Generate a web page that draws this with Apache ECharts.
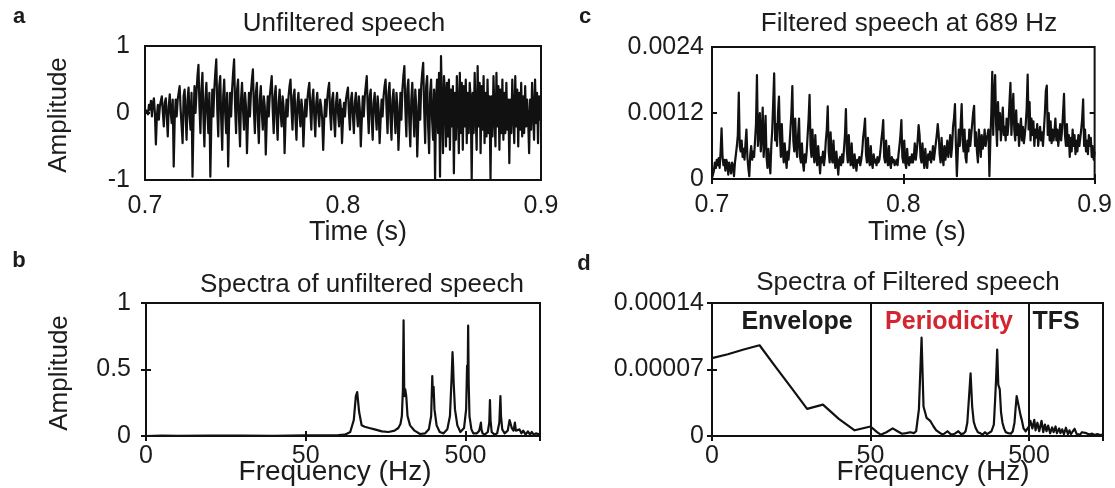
<!DOCTYPE html>
<html>
<head>
<meta charset="utf-8">
<script src="https://cdn.jsdelivr.net/npm/echarts@6/dist/echarts.min.js"></script>
<style>
  html, body { margin: 0; padding: 0; background: #ffffff; }
  #chart { width: 1115px; height: 488px; }
</style>
</head>
<body>
<div id="chart"></div>
<script>
// ---- sampling grid of the two waveforms ----
const TIME_START = 0.7;      // s
const TIME_STEP = 0.0005;    // s between samples
const TIME_TICKS = [0.7, 0.8, 0.9];

// Panel a: unfiltered speech waveform (normalised amplitude)
const unfilteredAmp = [
  0, 0.04, 0.06, -0.02, 0.12, 0.05, 0.18, -0.05, 0.15, 0.22, 0,
  -0.47,
  -0.05, 0.12, -0.1, 0.1, 0.18, 0.25, 0.02, -0.2, 0.15, 0.22, -0.05, -0.35, 0.1, 0.28, 0, -0.15, 0.2,
  -0.8,
  -0.1, 0.2, -0.05, 0.2, 0.3, 0.4, 0.05, -0.2, -0.45, 0.25, 0.35, -0.05, -0.4, 0.2, 0.38, -0.05, -0.25, 0.3,
  -0.95,
  -0.1, 0.4, 0, 0.3, 0.55, 0.72, 0.1, -0.3, 0.35, 0.6, -0.05, -0.5, 0.2, 0.45, 0, -0.3, 0.3,
  -0.95,
  -0.15, 0.35, -0.05, 0.35, 0.6, 0.8, 0.05, -0.35, 0.4, 0.55, -0.1, -0.55, 0.25, 0.5, 0, -0.3, 0.3,
  -0.8,
  -0.1, 0.3, -0.05, 0.35, 0.6, 0.8, 0.1, -0.3, 0.35, 0.5, -0.1, -0.5, 0.2, 0.45, 0.05, -0.25, 0.3, 0.1,
  -0.6,
  -0.1, 0.3, -0.05, 0.3, 0.5, 0.65, 0.05, -0.3, 0.3, 0.45, -0.1, -0.45, 0.2, 0.4, 0, -0.25, 0.25, 0.1,
  -0.62,
  -0.1, 0.25, -0.05, 0.25, 0.4, 0.55, 0.05, -0.3, 0.25, 0.4, -0.1, -0.4, 0.15, 0.35, 0, -0.2, 0.25, 0.1,
  -0.6,
  -0.1, 0.2, -0.05, 0.25, 0.4, 0.5, 0.05, -0.25, 0.25, 0.35, -0.1, -0.4, 0.15, 0.3, 0, -0.2, 0.2, 0.05,
  -0.5,
  -0.1, 0.2, -0.05, 0.2, 0.35, 0.45, 0.05, -0.25, 0.2, 0.35, -0.05, -0.35, 0.15, 0.3, 0, -0.2, 0.2, 0.1, -0.1,
  -0.55,
  -0.1, 0.2, -0.05, 0.2, 0.35, 0.45, 0, -0.25, 0.2, 0.3, -0.1, -0.35, 0.15, 0.3, 0, -0.2, 0.2, 0.05,
  -0.45,
  -0.1, 0.15, -0.05, 0.2, 0.3, 0.38, 0, -0.25, 0.2, 0.3, -0.05, -0.3, 0.15, 0.3, 0, -0.2, 0.25, 0.05,
  -0.5,
  -0.1, 0.25, -0.05, 0.25, 0.4, 0.55, 0.05, -0.3, 0.25, 0.35, -0.1, -0.4, 0.15, 0.3, 0, -0.25, 0.25, 0.05,
  -0.45,
  -0.1, 0.2, -0.05, 0.25, 0.4, 0.5, 0.05, -0.3, 0.3, 0.45, -0.1, -0.4, 0.2, 0.35, 0, -0.3, 0.3, 0.1,
  -0.55,
  -0.15, 0.3, -0.1, 0.35, 0.55, 0.7, 0.05, -0.35, 0.35, 0.5, -0.15, -0.5, 0.2, 0.45, 0, -0.35, 0.35, 0.1,
  -0.65,
  -0.15, 0.35, -0.1, 0.4, 0.6, 0.75, 0.05, -0.45, 0.4, 0.55, -0.2, -0.6, 0.3, 0.5, -0.1, -0.4, 0.35,
  -1.0,
  0.2, 0.5, -0.3, 0.6, -0.95, 0.85, 0.1, -0.6, 0.55, 0.3, -0.5, 0.45, -0.35, 0.5, -0.55, 0.35, -0.2, 0.4,
  -0.9,
  0.3, -0.4, 0.55, 0.1, -0.6, 0.6, -0.3, 0.45, -0.55, 0.4, -0.2, 0.5, -0.45, 0.3, -0.3, 0.45, 0.2,
  -1.0,
  0.3, -0.3, 0.6, 0, -0.55, 0.7, -0.2, 0.45, -0.6, 0.4, -0.25, 0.55, -0.45, 0.3, -0.35, 0.5, -0.3, 0.25,
  -1.0,
  0.25, -0.35, 0.55, 0, -0.5, 0.6, -0.2, 0.4, -0.55, 0.35, -0.3, 0.5, -0.4, 0.3, -0.3, 0.45, -0.25, 0.2,
  -0.75,
  0.2, -0.3, 0.5, 0, -0.45, 0.55, -0.2, 0.35, -0.5, 0.3, -0.25, 0.45, -0.35, 0.25, -0.3, 0.4, -0.2, 0.2, -0.1,
  -0.6,
  0.2, -0.25, 0.45, 0, -0.4, 0.5, -0.15, 0.3, -0.45, 0.25, -0.1, 0.05
];

// Panel c: speech filtered at 689 Hz (rectified output)
const filteredAmp = [
  0.00002, 0.00008, 0.00015, 0.0003, 0.0002, 0.00035, 0.00025, 0.00038, 0.0002, 0.0005,
  0.00092, 0.0004, 0.00025, 0.00035, 0.00015, 0.00035, 0.00028, 0.00008, 0.0003, 0.00032,
  0.0001, 0.0003, 0.00025, 0.00005, 0.0003, 0.00045, 0.0006, 0.0008, 0.00157, 0.0006,
  0.0005, 0.0007, 0.0004, 0.00055, 0.00035, 0.00065, 0.0009, 0.0004, 0.0002, 0.00005,
  0.00045, 0.0006, 0.00035, 0.0005, 0.0004, 0.0007, 0.001, 0.00189, 0.0006, 0.0009,
  0.0012, 0.0005, 0.0008, 0.0013, 0.0004, 0.0007, 0.00115, 0.0004, 0.0002, 0.00055,
  0.0003, 0.0001, 0.0006, 0.0009, 0.0014, 0.00192, 0.0007, 0.001, 0.0006, 0.0012,
  0.0015, 0.0008, 0.0004, 0.001, 0.0005, 0.0003, 0.00065, 0.0004, 0.0002, 0.0005,
  0.00035, 0.0006, 0.0009, 0.0012, 0.00169, 0.0007, 0.0005, 0.0011, 0.0006, 0.0004,
  0.0008, 0.0011, 0.0004, 0.0003, 0.00065, 0.0003, 0.00015, 0.00045, 0.0003, 0.0005,
  0.0008, 0.0011, 0.00153, 0.0006, 0.0004, 0.0009, 0.0005, 0.0003, 0.0008, 0.0004,
  0.00025, 0.0006, 0.00035, 0.0001, 0.0004, 0.0003, 0.0005, 0.00025, 0.0004, 0.0007,
  0.0009, 0.00132, 0.0005, 0.0003, 0.00085, 0.0004, 0.0003, 0.0007, 0.00035, 0.0002,
  0.0005, 0.0003, 0.00008, 0.00035, 0.0004, 0.00025, 0.00045, 0.0003, 0.00055, 0.0008,
  0.00127, 0.0005, 0.0003, 0.0008, 0.0004, 0.00025, 0.00065, 0.0003, 0.0002, 0.00045,
  0.0003, 0.00015, 0.00035, 0.0003, 0.0004, 0.00025, 0.00035, 0.0005, 0.00075, 0.0009,
  0.0011, 0.00045, 0.0003, 0.00075, 0.00035, 0.00025, 0.0006, 0.0003, 0.0002, 0.00045,
  0.0003, 0.00035, 0.00025, 0.0004, 0.0003, 0.00035, 0.0005, 0.0007, 0.00085, 0.00107,
  0.0004, 0.0003, 0.0007, 0.00035, 0.00025, 0.0006, 0.0003, 0.0002, 0.0004, 0.0003,
  0.00035, 0.00025, 0.0003, 0.00035, 0.00025, 0.00045, 0.0006, 0.0008, 0.00107, 0.0004,
  0.0003, 0.0007, 0.0003, 0.0002, 0.00055, 0.0003, 0.00025, 0.0004, 0.0003, 0.00045,
  0.0003, 0.0004, 0.00065, 0.00035, 0.0005, 0.0007, 0.00098, 0.0008, 0.0004, 0.0003,
  0.00065, 0.00035, 0.0002, 0.00055, 0.0003, 0.0002, 0.00045, 0.00035, 0.0005, 0.0003,
  0.0004, 0.0006, 0.00035, 0.0005, 0.00065, 0.0008, 0.001, 0.0008, 0.00045, 0.0003,
  0.00075, 0.0004, 0.00025, 0.0006, 0.00035, 0.0005, 0.0007, 0.0004, 0.00055, 0.0008,
  0.0004, 0.0006, 0.00095, 0.0011, 0.00136, 0.0006, 0.00005, 0.0005, 0.0009, 0.0006,
  0.001, 0.00136, 0.0007, 0.0005, 0.0009, 0.0004, 0.0003, 0.0007, 0.0005, 0.0009,
  0.0006, 0.0008, 0.001, 0.0012, 0.00133, 0.0006, 0.00085, 0.0005, 0.0003, 0.0009,
  0.0007, 0.0004, 0.0008, 0.00055, 0.00065, 0.0009, 0.0006, 0.00075, 0.0008, 0.0009,
  0.00005, 0.0007, 0.0012, 0.00195, 0.0008, 0.0015, 0.00189, 0.001, 0.0006, 0.0014,
  0.0009, 0.0012, 0.0007, 0.001, 0.0013, 0.0008, 0.00095, 0.0007, 0.0011, 0.0008,
  0.001, 0.0014, 0.00175, 0.0008, 0.0012, 0.00155, 0.0009, 0.0007, 0.00125, 0.0008,
  0.001, 0.0006, 0.0009, 0.0011, 0.0007, 0.00095, 0.00065, 0.0008, 0.001, 0.0013,
  0.0019, 0.0009, 0.0014, 0.0007, 0.0011, 0.0008, 0.00105, 0.0006, 0.0009, 0.00075,
  0.001, 0.0006, 0.0008, 0.00095, 0.0007, 0.00085, 0.0006, 0.0009, 0.0012, 0.0016,
  0.0017, 0.0008, 0.0012, 0.0007, 0.00105, 0.00065, 0.0009, 0.0007, 0.00085, 0.0011,
  0.0007, 0.0009, 0.0006, 0.0008, 0.001, 0.0007, 0.0009, 0.0012, 0.00155, 0.0008,
  0.0006, 0.001, 0.0006, 0.0008, 0.0004, 0.00075, 0.0005, 0.0009, 0.0006, 0.0008,
  0.00045, 0.0007, 0.0005, 0.0008, 0.0006, 0.00075, 0.0009, 0.0011, 0.00145, 0.0006,
  0.0009, 0.0005, 0.0007, 0.00045, 0.0008, 0.0006, 0.00075, 0.0004, 0.0006, 0.00035,
  0.0005
];

// ---- spectra: frequency axis is linear 0–50 Hz, logarithmic above 50 Hz ----
const FREQ_MAX = 1465;          // Hz, right end of the spectrum axes
const FREQ_TICKS = [0, 50, 500];
const FREQ_TICK_LABELS = ['0', '50', '500'];

// Panel b: spectrum of the unfiltered speech
const specUnfilteredFreq = [
  0, 5, 10, 20, 30, 40, 50, 60, 70, 80, 88, 95, 100, 103, 105, 108, 112, 117, 125, 135,
  150, 165, 180, 190, 196, 200, 203, 205, 207, 210, 213, 217, 225, 240, 260, 280, 295, 305, 310, 313,
  316, 320, 330, 345, 365, 385, 400, 410, 415, 418, 422, 430, 445, 465, 490, 505, 512, 517, 520, 524,
  530, 545, 560, 590, 610, 620, 625, 630, 640, 660, 690, 705, 712, 718, 730, 760, 790, 815, 828, 835,
  850, 880, 920, 945, 960, 975, 1000, 1020, 1035, 1060, 1090, 1120, 1150, 1190, 1230, 1270, 1300, 1340, 1380, 1420,
  1465
];
const specUnfilteredAmp = [
  0, 0.003, 0.002, 0.003, 0.003, 0.002, 0.004, 0.004, 0.005, 0.006, 0.01, 0.03, 0.12, 0.3, 0.33, 0.18, 0.08, 0.07, 0.06, 0.05,
  0.035, 0.03, 0.04, 0.06, 0.09, 0.15, 0.35, 0.87, 0.3, 0.35, 0.3, 0.15, 0.08, 0.04, 0.015, 0.02, 0.05, 0.15, 0.45, 0.3,
  0.37, 0.2, 0.08, 0.03, 0.02, 0.05, 0.15, 0.45, 0.63, 0.55, 0.4, 0.2, 0.08, 0.03, 0.06, 0.2, 0.53, 0.5, 0.83, 0.4,
  0.15, 0.05, 0.02, 0.02, 0.04, 0.08, 0.1, 0.05, 0.02, 0.01, 0.03, 0.1, 0.27, 0.12, 0.03, 0.01, 0.02, 0.1, 0.3, 0.15,
  0.05, 0.02, 0.04, 0.12, 0.13, 0.06, 0.04, 0.1, 0.04, 0.03, 0.05, 0.02, 0.04, 0.01, 0.035, 0.01, 0.03, 0.01, 0.02, 0.005,
  0.01
];

// Panel d: spectrum of the filtered speech
const specFilteredFreq = [
  0, 5, 10, 15, 20, 25, 30, 35, 40, 45, 50, 55, 58, 63, 69, 74, 79, 84, 89, 94,
  97, 101, 105, 108, 113, 119, 125, 130, 135, 141, 146, 153, 160, 166, 172, 179, 186, 194, 199, 204,
  209, 214, 219, 224, 230, 238, 247, 255, 264, 272, 280, 290, 300, 305, 310, 315, 320, 327, 333, 340,
  348, 357, 370, 384, 395, 405, 412, 418, 425, 435, 442, 450, 462, 476, 488, 500, 510, 525, 540, 550,
  565, 580, 600, 615, 630, 645, 660, 680, 700, 715, 735, 750, 775, 790, 810, 830, 855, 880, 900, 920,
  945, 970, 1000, 1025, 1050, 1080, 1100, 1150, 1200, 1250, 1300, 1350, 1400, 1465
];
const specFilteredAmp = [
  8.2e-5, 8.6e-5, 9.1e-5, 9.55e-5, 7.3e-5, 5.1e-5, 2.85e-5, 3.3e-5, 1.8e-5, 6e-6, 1e-5, 4e-6, 1.4e-6, 4e-6, 8e-6, 5e-6, 2.4e-6, 3e-6, 4e-6, 3e-6,
  5e-6, 2.8e-5, 1.035e-4, 3.1e-5, 1.9e-5, 1.6e-5, 1e-5, 6e-6, 4e-6, 2e-6, 2.4e-6, 5e-6, 2e-6, 1.7e-6, 3e-6, 5e-6, 2e-6, 2.8e-6, 5e-6, 1.4e-5,
  4e-5, 6.6e-5, 3.1e-5, 1.5e-5, 8.7e-6, 4e-6, 2.8e-6, 1.5e-6, 4e-6, 2e-6, 3e-6, 5e-6, 1.2e-5, 3.5e-5, 6e-5, 9.1e-5, 5.4e-5, 4.9e-5, 2.5e-5, 1.4e-5,
  8e-6, 4e-6, 3e-6, 2.4e-6, 5e-6, 1.4e-5, 3e-5, 4.2e-5, 3.6e-5, 3.4e-5, 2.2e-5, 1.7e-5, 8e-6, 5e-6, 7e-6, 1e-5, 1.6e-5, 8e-6, 1.7e-5, 6e-6,
  1.4e-5, 5e-6, 1.6e-5, 4e-6, 1.2e-5, 5e-6, 1.1e-5, 3e-6, 9e-6, 4e-6, 1e-5, 3e-6, 8e-6, 3e-6, 7e-6, 2e-6, 8.7e-6, 2e-6, 6e-6, 2e-6,
  5e-6, 7.6e-6, 2e-6, 4e-6, 1.5e-6, 4e-6, 2e-6, 3e-6, 1.5e-6, 2.5e-6, 1e-6, 2e-6, 1e-6, 1.5e-6
];

// ---- helpers ----
// map Hz onto the split axis: one unit for 0–50 Hz, one unit per decade above
function freqToAxis(f) {
  return f <= 50 ? f / 50 : 1 + Math.log10(f / 50);
}
const FREQ_AXIS_MAX = freqToAxis(FREQ_MAX);

const FONT = '"Liberation Sans", Arial, Helvetica, sans-serif';
const INK = '#1c1c1c';
const LINE = '#111111';

const grids = [
  { left: 145, top: 46, width: 396, height: 134 },   // a
  { left: 146, top: 303, width: 394, height: 133 },  // b
  { left: 712, top: 47, width: 392, height: 132 },   // c
  { left: 712, top: 303, width: 391, height: 133 }   // d
].map(g => Object.assign({ show: true, borderColor: LINE, borderWidth: 2, backgroundColor: 'transparent' }, g));

const tickStyle = { show: true, inside: true, length: 5, lineStyle: { color: LINE, width: 2 } };
const labelStyle = (size, margin, formatter) =>
  ({ color: INK, fontSize: size, fontFamily: FONT, margin, formatter, showMinLabel: true, showMaxLabel: true });

function axis(gridIndex, position, range, label) {
  return Object.assign({
    gridIndex, type: 'value', position,
    axisLine: { show: false },
    axisTick: tickStyle,
    splitLine: { show: false },
    axisLabel: label || { show: false }
  }, range);
}

const timeRange = { min: TIME_START, max: 0.9, interval: 0.1 };
const timeLabel = v => {
  const hit = TIME_TICKS.find(t => Math.abs(t - v) < 1e-9);
  return hit === undefined ? '' : hit.toFixed(1);
};
const freqRange = { min: 0, max: FREQ_AXIS_MAX, interval: 1 };
const freqLabel = v => {
  const i = FREQ_TICKS.findIndex(f => Math.abs(freqToAxis(f) - v) < 1e-9);
  return i < 0 ? '' : FREQ_TICK_LABELS[i];
};

const ampA = { min: -1, max: 1, interval: 1 };
const ampB = { min: 0, max: 1, interval: 0.5 };
const ampC = { min: 0, max: 0.0024, interval: 0.0012 };
const ampD = { min: 0, max: 0.00014, interval: 0.00007 };
const fixed = digits => v => (Math.abs(v) < 1e-12 ? '0' : v.toFixed(digits));

const xAxes = [
  axis(0, 'bottom', timeRange, labelStyle(25, 14, timeLabel)),
  axis(1, 'bottom', freqRange, labelStyle(25, 8, freqLabel)),
  axis(2, 'bottom', timeRange, labelStyle(25, 14, timeLabel)),
  axis(3, 'bottom', freqRange, labelStyle(25, 8, freqLabel)),
  axis(0, 'top', timeRange), axis(1, 'top', freqRange), axis(2, 'top', timeRange), axis(3, 'top', freqRange)
];

const yAxes = [
  axis(0, 'left', ampA, labelStyle(25, 15)),
  axis(1, 'left', ampB, labelStyle(25, 15, v => (v === 0 ? '0' : String(+v.toFixed(1))))),
  axis(2, 'left', ampC, labelStyle(25, 8, fixed(4))),
  axis(3, 'left', ampD, labelStyle(25, 8, fixed(5))),
  axis(0, 'right', ampA), axis(1, 'right', ampB), axis(2, 'right', ampC), axis(3, 'right', ampD)
];

const lineStyle = { color: LINE, width: 2.2, join: 'round' };
function lineSeries(xi, yi, data, extra) {
  return Object.assign({
    type: 'line', xAxisIndex: xi, yAxisIndex: yi, data,
    showSymbol: false, symbol: 'none', lineStyle, silent: true, animation: false, z: 3
  }, extra);
}

const series = [
  lineSeries(0, 0, unfilteredAmp.map((v, i) => [TIME_START + i * TIME_STEP, v])),
  lineSeries(1, 1, specUnfilteredFreq.map((f, i) => [freqToAxis(f), specUnfilteredAmp[i]])),
  lineSeries(2, 2, filteredAmp.map((v, i) => [TIME_START + i * TIME_STEP, v])),
  lineSeries(3, 3, specFilteredFreq.map((f, i) => [freqToAxis(f), specFilteredAmp[i]]), {
    markLine: {
      silent: true, symbol: ['none', 'none'], label: { show: false },
      lineStyle: { color: LINE, width: 2, type: 'solid' },
      data: [{ xAxis: freqToAxis(50) }, { xAxis: freqToAxis(500) }]
    }
  })
];

function txt(text, x, y, size, opts) {
  return Object.assign({
    type: 'text', x, y, silent: true,
    style: Object.assign({
      text, fill: INK, font: `${size}px ${FONT}`,
      textAlign: 'center', textVerticalAlign: 'middle'
    }, (opts && opts.style) || {})
  }, (opts && opts.el) || {});
}
function boldTxt(text, x, y, size, color) {
  return txt(text, x, y, size, { style: { font: `bold ${size}px ${FONT}`, fill: color || INK } });
}

const graphic = [
  // panel letters
  boldTxt('a', 19, 17, 22), boldTxt('c', 585, 17, 22),
  boldTxt('b', 19, 261, 22), boldTxt('d', 584, 264, 22),
  // panel titles
  txt('Unfiltered speech', 344, 24, 26),
  txt('Filtered speech at 689 Hz', 909, 24, 26),
  txt('Spectra of unfiltered speech', 362, 285, 26),
  txt('Spectra of Filtered speech', 908, 283, 26),
  // axis names
  txt('Amplitude', 59, 115, 26, { el: { rotation: Math.PI / 2 } }),
  txt('Amplitude', 60, 373, 26, { el: { rotation: Math.PI / 2 } }),
  txt('Time (s)', 358, 233, 27),
  txt('Time (s)', 917, 233, 27),
  txt('Frequency (Hz)', 335, 472, 28),
  txt('Frequency (Hz)', 933, 472, 28),
  // band labels inside panel d
  boldTxt('Envelope', 797, 322, 25),
  boldTxt('Periodicity', 949, 322, 25, '#d3242f'),
  boldTxt('TFS', 1056, 322, 25)
];

const chart = echarts.init(document.getElementById('chart'), null, { renderer: 'canvas' });
chart.setOption({
  animation: false,
  backgroundColor: '#ffffff',
  grid: grids,
  xAxis: xAxes,
  yAxis: yAxes,
  series,
  graphic
});
</script>
</body>
</html>
